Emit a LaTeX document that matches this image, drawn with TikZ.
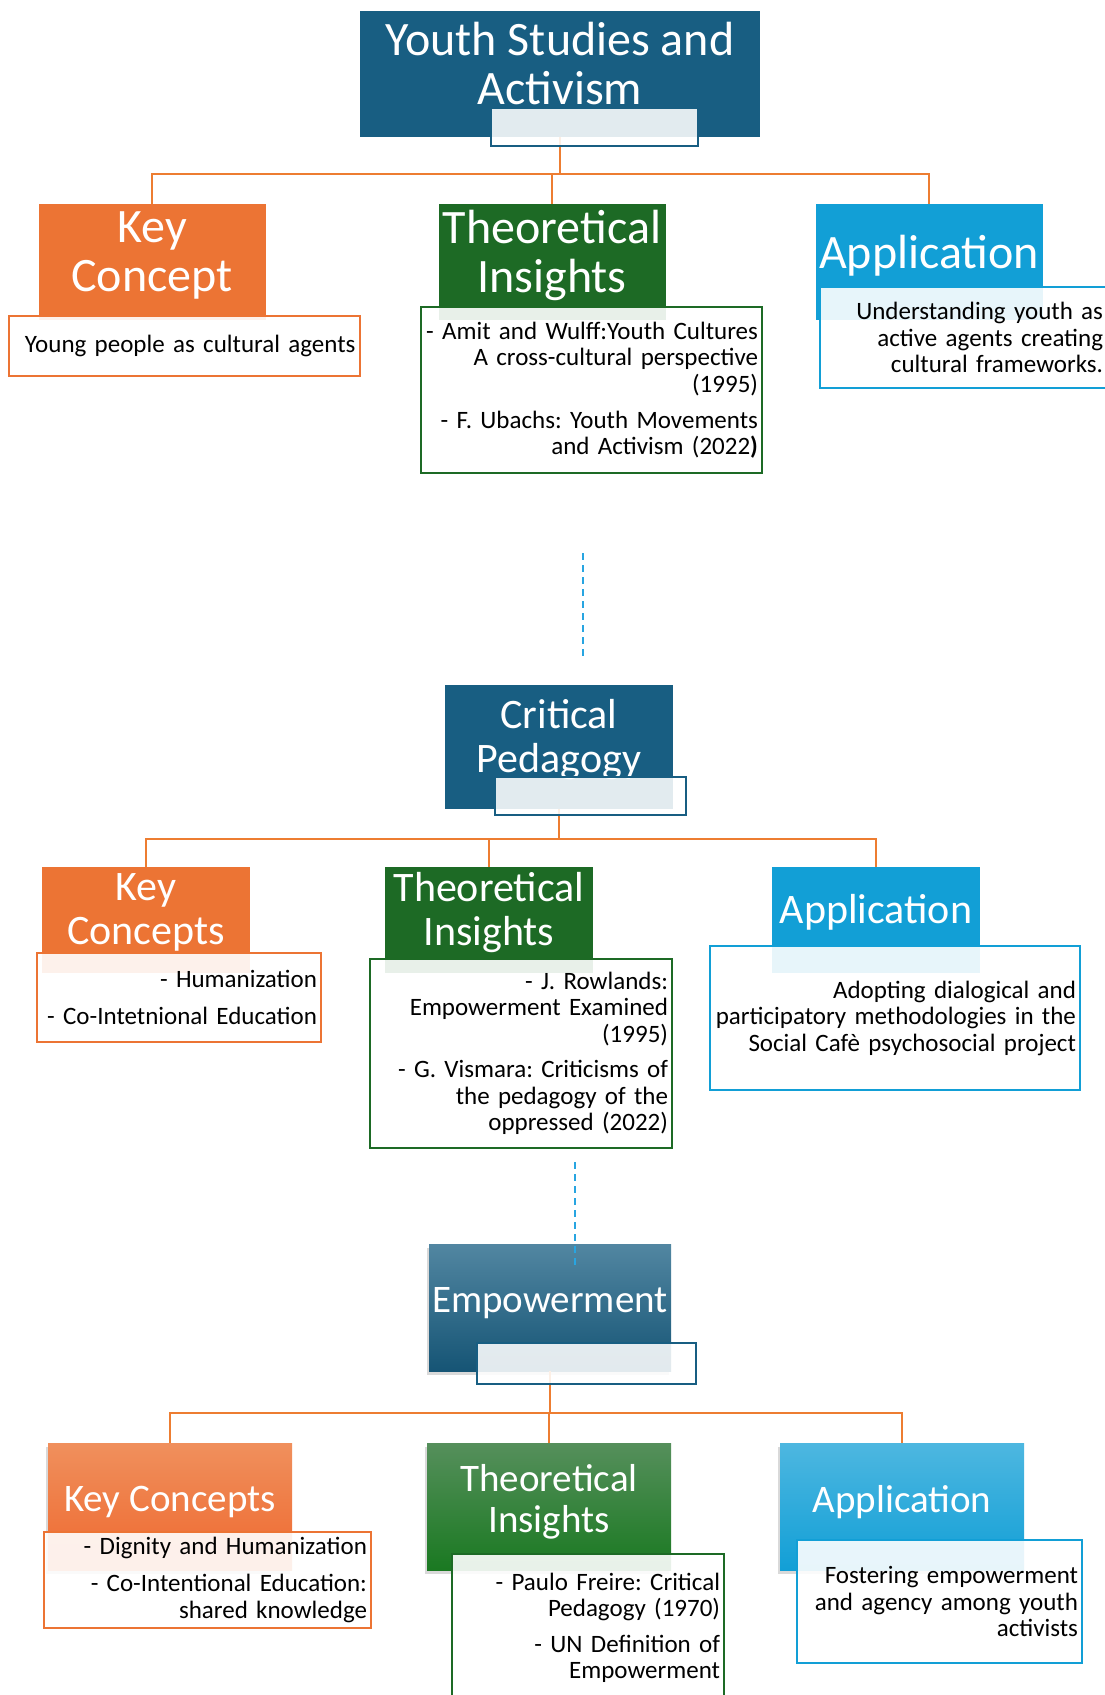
\documentclass[tikz,border=0pt]{standalone}
\usepackage{fontspec}
\setmainfont{Carlito}
\usetikzlibrary{shadows}
\definecolor{deepblue}{RGB}{24,94,130}
\definecolor{keyorange}{RGB}{236,116,52}
\definecolor{theogreen}{RGB}{29,106,37}
\definecolor{appblue}{RGB}{18,159,214}
\definecolor{linkorange}{RGB}{237,125,49}
\definecolor{guideblue}{RGB}{40,165,225}
\newcommand{\bodyfont}{\fontsize{25}{26.5}\selectfont\frenchspacing}

\begin{document}
\begin{tikzpicture}[x=1pt,y=-1pt,
  head/.style={text=white,align=center,inner sep=0pt},
  secA/.style={head,font=\fontsize{48}{49.5}\selectfont,text depth=21pt,minimum width=227,minimum height=116},
  secB/.style={head,font=\fontsize{42}{43.5}\selectfont,text depth=22pt,minimum width=208,minimum height=106},
  secC/.style={head,font=\fontsize{39}{41.5}\selectfont,text depth=16pt,minimum width=244,minimum height=127,
    drop shadow={shadow xshift=-2pt,shadow yshift=-4pt,opacity=.3}},
  note/.style={fill=white,fill opacity=.9,text opacity=1,line width=2pt,align=right,inner xsep=4pt,inner ysep=0pt,font=\bodyfont},
  tab/.style={fill=white,fill opacity=.88,draw=deepblue,line width=1.5pt},
  link/.style={draw=linkorange,line width=2.4pt},
  guide/.style={draw=guideblue,line width=1.5pt,dash pattern=on 7pt off 5pt}]
  \useasboundingbox (0,0) rectangle (1105,1695);

  \node[secA,fill=deepblue,minimum width=400,minimum height=126] (t1) at (560,74) {Youth Studies and\\Activism};
  \node[secA,fill=keyorange] (kc1) at (152,262) {Key\\Concept};
  \node[secA,fill=theogreen] (ti1) at (552,262) {Theoretical\\Insights};
  \node[secA,fill=appblue] (ap1) at (929,262) {Application};
  \draw[link] (t1.south) -- ++(0,37) -| (kc1.north);
  \draw[link] (t1.south) -- ++(0,37) -| (ti1.north);
  \draw[link] (t1.south) -- ++(0,37) -| (ap1.north);
  \node[tab,minimum width=207,minimum height=38] (s1) at (594.5,127) {};
  \node[note,draw=keyorange,text width=343,minimum height=60] (kt1) at (184,346) {Young people as cultural agents};
  \node[note,draw=theogreen,text width=333,minimum height=166] (tt1) at (591.5,390) {- Amit and Wulff:Youth Cultures\\A cross-cultural perspective\\(1995)\\[9.5pt]- F. Ubachs: Youth Movements\\and Activism (2022\textbf{)}};
  \node[note,draw=appblue,text width=279,minimum height=101] (at1) at (963.5,337.5) {Understanding youth as\\active agents creating\\cultural frameworks.};

  \coordinate (d1a) at (583,553);
  \coordinate (d1b) at (583,660);
  \draw[guide] (d1a) -- (d1b);

  \node[secB,fill=deepblue,minimum width=228,minimum height=124] (t2) at (559,747) {Critical\\Pedagogy};
  \node[secB,fill=keyorange] (kc2) at (146,920) {Key\\Concepts};
  \node[secB,fill=theogreen] (ti2) at (489,920) {Theoretical\\Insights};
  \node[secB,fill=appblue] (ap2) at (876,920) {Application};
  \draw[link] (t2.south) -- ++(0,30) -| (kc2.north);
  \draw[link] (t2.south) -- ++(0,30) -| (ti2.north);
  \draw[link] (t2.south) -- ++(0,30) -| (ap2.north);
  \node[tab,minimum width=191,minimum height=38] (s2) at (590.5,796) {};
  \node[note,draw=keyorange,text width=276,minimum height=89] (kt2) at (179,997.5) {- Humanization\\[10.5pt]- Co-Intetnional Education};
  \node[note,draw=theogreen,text width=294,minimum height=189] (tt2) at (521,1053.5) {- J. Rowlands:\\Empowerment Examined\\(1995)\\[9pt]- G. Vismara: Criticisms of\\the pedagogy of the\\oppressed (2022)};
  \node[note,draw=appblue,text width=362,minimum height=144] (at2) at (895,1018) {Adopting dialogical and\\participatory methodologies in the\\Social Cafè psychosocial project};

  \coordinate (d2a) at (575,1162);
  \coordinate (d2b) at (575,1268);

  \node[secC,top color=deepblue!75!white,bottom color=deepblue!90!black,minimum width=242] (t3) at (550,1307.5) {Empowerment};
  \node[secC,top color=keyorange!80!white,bottom color=keyorange!90!red] (kc3) at (170,1506.5) {Key Concepts};
  \node[secC,top color=theogreen!75!white,bottom color=theogreen!90!green] (ti3) at (549,1506.5) {Theoretical\\Insights};
  \node[secC,top color=appblue!75!white,bottom color=appblue] (ap3) at (902,1506.5) {Application};
  \draw[guide] (d2a) -- (d2b);
  \draw[link] (t3.south) -- ++(0,42) -| (kc3.north);
  \draw[link] (t3.south) -- ++(0,42) -| (ti3.north);
  \draw[link] (t3.south) -- ++(0,42) -| (ap3.north);
  \node[tab,line width=1.2pt,minimum width=219,minimum height=41] (s3) at (586.5,1363.5) {};
  \node[note,line width=1.3pt,draw=keyorange,text width=319,minimum height=96] (kt3) at (207.5,1580) {- Dignity and Humanization\\[10.5pt]- Co-Intentional Education:\\shared knowledge};
  \node[note,line width=1.3pt,draw=theogreen,text width=264,minimum height=148] (tt3) at (588,1628) {- Paulo Freire: Critical\\Pedagogy (1970)\\[9pt]- UN Definition of\\Empowerment};
  \node[note,line width=1.3pt,draw=appblue,text width=277,minimum height=123] (at3) at (939.5,1601.5) {Fostering empowerment\\and agency among youth\\activists};
\end{tikzpicture}
\end{document}
